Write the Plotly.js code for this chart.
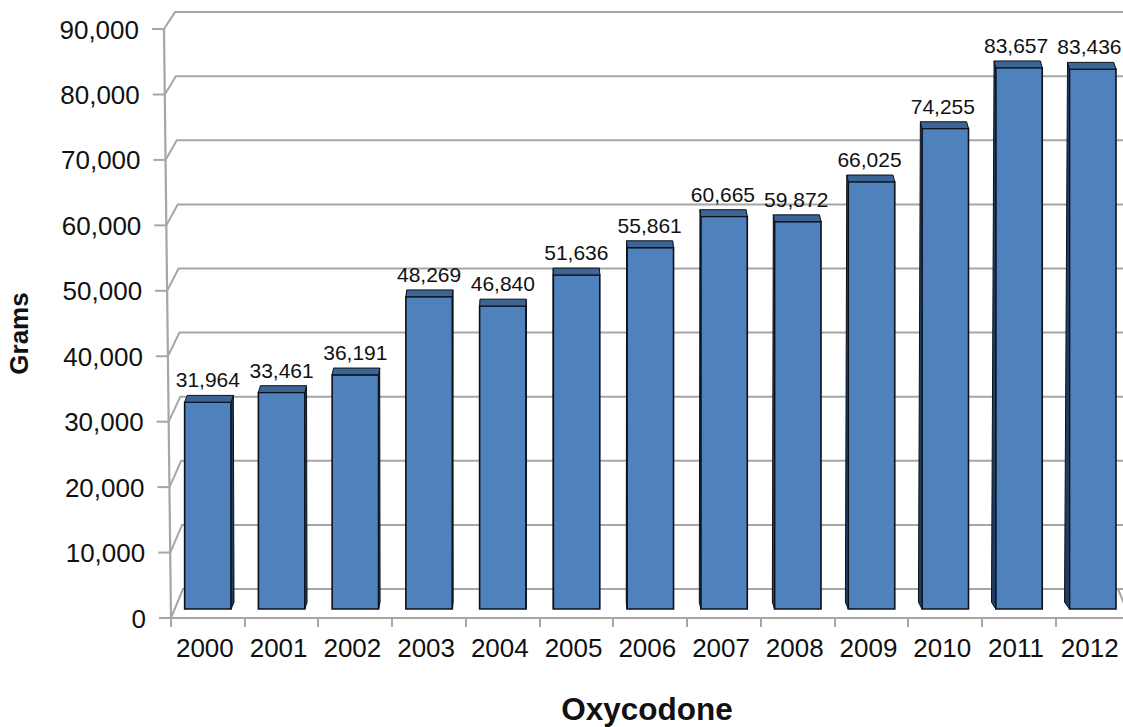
<!DOCTYPE html>
<html>
<head>
<meta charset="utf-8">
<script src="https://cdn.plot.ly/plotly-3.0.1.min.js"></script>
<style>html,body{margin:0;padding:0;background:#fff;overflow:hidden}</style>
</head>
<body>
<div id="chart" style="width:1123px;height:727px"></div>
<script>
// ---- data ----
const years = ['2000','2001','2002','2003','2004','2005','2006','2007','2008','2009','2010','2011','2012'];
const grams = [31964,33461,36191,48269,46840,51636,55861,60665,59872,66025,74255,83657,83436];
const yTicks = [0,10000,20000,30000,40000,50000,60000,70000,80000,90000];
const yTitle = '<b>Grams</b>';
const xTitle = '<b>Oxycodone</b>';

// ---- styles ----
const W = 1123, H = 727;
const FONT = '"Liberation Sans", Arial, sans-serif';
const GREY = '#a6a6a6', FACE = '#4f81bd', TOP = '#3c6494', SIDE = '#1f3d63', EDGE = '#0c1118', INK = '#111111';

// ---- the chart is a 3-D column view: the numeric axes below map
// the plane of the bar fronts; other planes are offset from it ----
const PXPERCAT = 73.74, PXPERK = 6.47, BASEY = 609, LEFT = 171, FLOORY = 617, PLOTTOP = 50;
const yToVal = py => (BASEY - py) / PXPERK * 1000;
const pxToX = px => (px - LEFT) / PXPERCAT - 0.5;
const frontY = v => yToVal(618 - 6.544 * v / 1000);
const backY = v => yToVal(589 - 6.41 * v / 1000);
const frontX = v => pxToX(171 - 7 * v / 90000);
const backX = v => pxToX(183 - 8 * v / 90000);

const BARW = 0.63, VP = 4.5, DEPTH = 1050;
const persp = (x, v) => x + (VP - x) * 0.0094 * (1 - 0.6 * v / 84000);

// walls
const wallX = [], wallY = [], tickX = [], tickY = [], lblX = [], lblY = [], lblT = [];
yTicks.forEach(v => {
  wallX.push(frontX(v), backX(v), pxToX(W + 2), null);
  wallY.push(frontY(v), backY(v), backY(v), null);
  tickX.push(frontX(v), pxToX(171 - 7 * v / 90000 - 12), null);
  tickY.push(frontY(v), frontY(v), null);
  lblX.push(pxToX(171 - 7 * v / 90000 - 25));
  lblY.push(yToVal(618 - 6.544 * v / 1000 + 3));
  lblT.push(v.toLocaleString('en-US'));
});
const axisX = [frontX(0), frontX(90000)], axisY = [frontY(0), frontY(90000)];
const rightX = [pxToX(1118), pxToX(1130)], rightY = [backY(0), frontY(0)];

// bar tops and sides
const topX = [], topY = [], sideX = [], sideY = [], valX = [], valY = [];
grams.forEach((v, i) => {
  const L = i - BARW / 2, R = i + BARW / 2;
  topX.push(L, R, persp(R, v), persp(L, v), L, null);
  topY.push(v, v, v + DEPTH, v + DEPTH, v, null);
  const e = (R < VP) ? R : (L > VP ? L : null);
  if (e !== null) {
    sideX.push(e, e, persp(e, v), persp(e, 0), e, null);
    sideY.push(0, v, v + DEPTH, DEPTH, 0, null);
  }
  valX.push(i + Math.min(0, VP - i) * 0.006);
  valY.push(v + 20 / PXPERK * 1000);
});

const fullX = [pxToX(0), pxToX(W)], fullY = [yToVal(H), yToVal(0)];
const thin = {color: EDGE, width: 1};

const traces = [
  {type:'scatter', mode:'lines', xaxis:'x', yaxis:'y', x:wallX, y:wallY, line:{color:GREY, width:2}, hoverinfo:'skip', showlegend:false},
  {type:'scatter', mode:'lines', xaxis:'x', yaxis:'y', x:tickX, y:tickY, line:{color:GREY, width:2}, hoverinfo:'skip', showlegend:false},
  {type:'scatter', mode:'lines', xaxis:'x', yaxis:'y', x:axisX, y:axisY, line:{color:GREY, width:2.2}, hoverinfo:'skip', showlegend:false},
  {type:'scatter', mode:'lines', xaxis:'x', yaxis:'y', x:rightX, y:rightY, line:{color:GREY, width:2}, hoverinfo:'skip', showlegend:false},
  {type:'scatter', mode:'text', xaxis:'x', yaxis:'y', x:lblX, y:lblY, text:lblT, textposition:'middle left',
   textfont:{family:FONT, size:26, color:INK}, hoverinfo:'skip', showlegend:false},
  {type:'bar', xaxis:'x2', yaxis:'y2', x:years, y:grams, width:BARW, marker:{color:FACE, line:{color:EDGE, width:1.6}}, showlegend:false},
  {type:'scatter', mode:'lines', xaxis:'x3', yaxis:'y3', x:sideX, y:sideY, fill:'toself', fillcolor:SIDE, line:thin, hoverinfo:'skip', showlegend:false},
  {type:'scatter', mode:'lines', xaxis:'x3', yaxis:'y3', x:topX, y:topY, fill:'toself', fillcolor:TOP, line:thin, hoverinfo:'skip', showlegend:false},
  {type:'scatter', mode:'text', xaxis:'x3', yaxis:'y3', x:valX, y:valY,
   text:grams.map(v => v.toLocaleString('en-US')), textposition:'middle center',
   textfont:{family:FONT, size:21, color:INK}, hoverinfo:'skip', showlegend:false}
];

const hidden = {visible:false, fixedrange:true};
const layout = {
  width:W, height:H,
  margin:{l:0, r:0, t:0, b:0, pad:0},
  paper_bgcolor:'#ffffff', plot_bgcolor:'rgba(0,0,0,0)',
  showlegend:false,
  xaxis:Object.assign({domain:[0,1], range:fullX, anchor:'y'}, hidden),
  yaxis:Object.assign({domain:[0,1], range:fullY, anchor:'x'}, hidden),
  xaxis2:{domain:[LEFT/W,1], anchor:'y2', type:'category', categoryorder:'array', categoryarray:years,
    range:[-0.5, pxToX(W)], tickson:'boundaries', ticks:'outside', ticklen:8, tickwidth:2, tickcolor:GREY,
    showline:true, linecolor:GREY, linewidth:2.2, showgrid:false, zeroline:false,
    tickfont:{family:FONT, size:26, color:INK}, tickangle:0, ticklabelstandoff:7, ticklabelshift:-3,
    title:{text:xTitle, font:{family:FONT, size:31.5, color:INK}, standoff:37}},
  yaxis2:{domain:[(H-FLOORY)/H, (H-PLOTTOP)/H], anchor:'x2', range:[yToVal(FLOORY), yToVal(PLOTTOP)],
    showline:false, showgrid:false, zeroline:false, ticks:'', showticklabels:false,
    title:{text:yTitle, font:{family:FONT, size:26, color:INK}, standoff:133}},
  xaxis3:Object.assign({domain:[0,1], range:fullX, anchor:'y3'}, hidden),
  yaxis3:Object.assign({domain:[0,1], range:fullY, anchor:'x3'}, hidden),
  bargap:0
};
Plotly.newPlot('chart', traces, layout, {displayModeBar:false, staticPlot:true});
</script>
</body>
</html>
